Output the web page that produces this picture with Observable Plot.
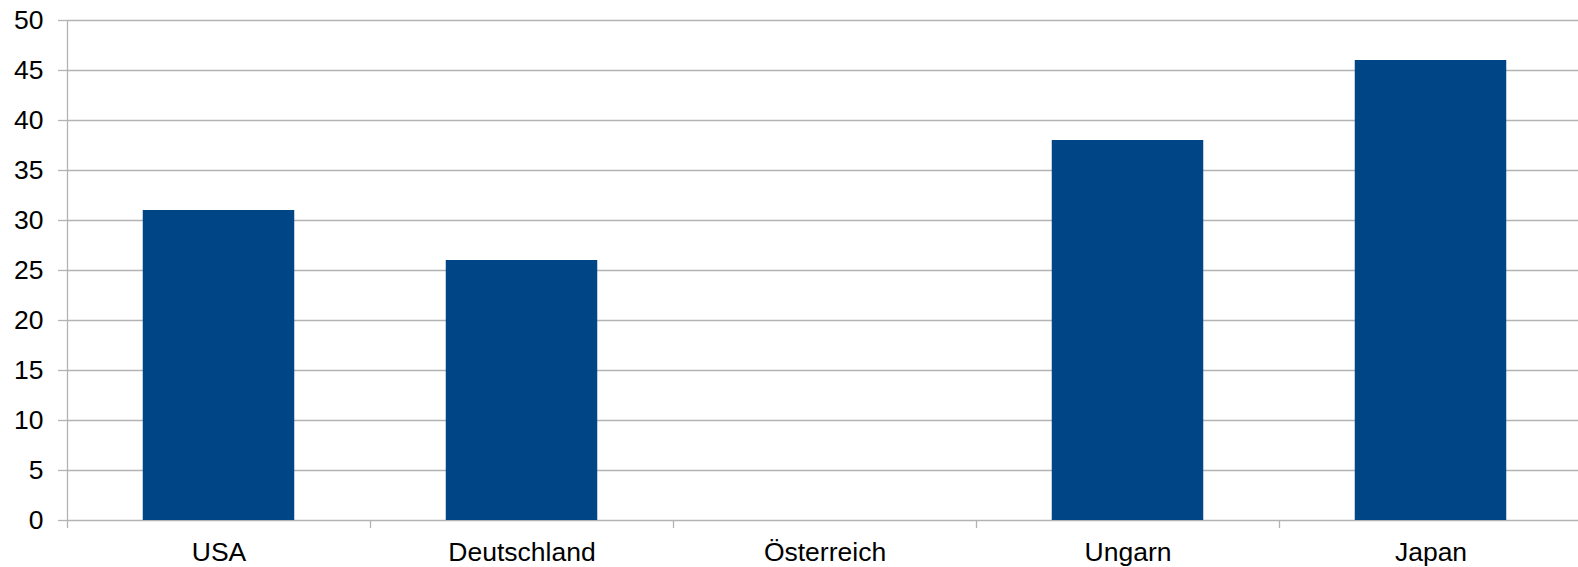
<!DOCTYPE html>
<html>
<head>
<meta charset="utf-8">
<script src="https://cdn.jsdelivr.net/npm/d3@7"></script>
<script src="https://cdn.jsdelivr.net/npm/@observablehq/plot@0.6"></script>
<style>
  html, body { margin: 0; padding: 0; background: #fff; overflow: hidden; }
  #chart svg { display: block; }
</style>
</head>
<body>
<div id="chart"></div>
<script>
const categories = ["USA", "Deutschland", "Österreich", "Ungarn", "Japan"];
const values = [31, 26, null, 38, 46];
const yTicks = [0, 5, 10, 15, 20, 25, 30, 35, 40, 45, 50];

const data = categories.map((c, i) => ({category: c, index: i, value: values[i]}));
const gridColor = "#b3b3b3";

const chart = Plot.plot({
  width: 1578,
  height: 567,
  marginLeft: 67,
  marginRight: -4,
  marginTop: 20,
  marginBottom: 47,
  style: {fontFamily: "'Liberation Sans', Arial, sans-serif", fontSize: "26.5px", color: "#000", background: "#fff", overflow: "hidden"},
  x: {domain: [0, categories.length], label: null},
  y: {domain: [0, 50], label: null},
  marks: [
    Plot.ruleY(yTicks, {stroke: gridColor, strokeWidth: 1.3}),
    Plot.axisY({ticks: yTicks, tickSize: 9, tickPadding: 15, stroke: gridColor, strokeOpacity: 1, strokeWidth: 1.3, fill: "#000", label: null}),
    Plot.ruleX([0], {stroke: gridColor, strokeWidth: 1.3}),
    Plot.axisX({ticks: d3.range(categories.length + 1), tickSize: 8, tickFormat: () => "", stroke: gridColor, strokeOpacity: 1, strokeWidth: 1.3, label: null}),
    Plot.axisX({ticks: categories.map((_, i) => i + 0.5), tickSize: 0, tickPadding: 22, tickFormat: v => categories[Math.floor(v)], fill: "#000", label: null}),
    Plot.rectY(data.filter(d => d.value != null), {
      x1: d => d.index + 0.25,
      x2: d => d.index + 0.75,
      y: "value",
      fill: "#004586",
      inset: 0
    })
  ]
});
document.getElementById("chart").append(chart);
</script>
</body>
</html>
